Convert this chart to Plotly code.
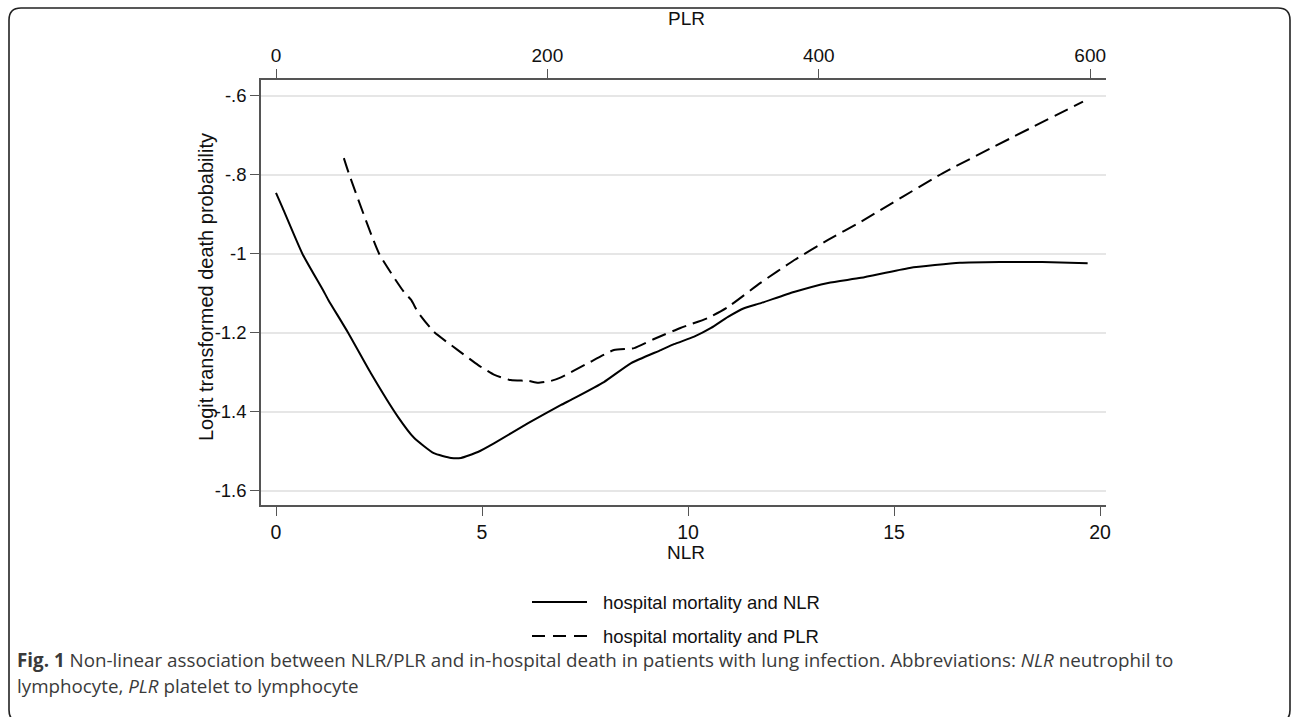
import plotly.graph_objects as go

# ---------------- data ----------------
nlr_x = [0, 0.16, 0.64, 1.14, 1.27, 1.75, 2.3, 2.96, 3.35, 3.83, 4.25, 4.49, 4.9, 5.29,
         6.12, 6.92, 7.16, 7.96, 8.62, 9.34, 9.66, 10.15, 10.56, 10.97, 11.36, 11.77,
         12.57, 13.4, 14.2, 15.38, 16.6, 17.57, 18.6, 19.7]
nlr_y = [-0.846, -0.884, -1.0, -1.092, -1.117, -1.2, -1.302, -1.413, -1.466, -1.505, -1.517,
         -1.517, -1.502, -1.48, -1.429, -1.383, -1.37, -1.325, -1.277, -1.244, -1.229,
         -1.21, -1.188, -1.16, -1.138, -1.125, -1.097, -1.074, -1.061, -1.036, -1.023,
         -1.021, -1.021, -1.024]

plr_x = [50, 54, 76, 94.3, 99.6, 104.6, 116.4, 134, 149, 161, 173, 186, 193, 202.6, 210,
         230, 249, 264, 278.6, 298, 318, 333, 357, 382, 406.8, 431, 491.5, 594.7]
plr_y = [-0.758, -0.8, -1.0, -1.097, -1.117, -1.148, -1.198, -1.244, -1.282, -1.307, -1.32,
         -1.322, -1.327, -1.322, -1.313, -1.277, -1.244, -1.239, -1.216, -1.188, -1.163,
         -1.135, -1.074, -1.016, -0.965, -0.919, -0.796, -0.615]

nlr_ticks = [0, 5, 10, 15, 20]
plr_ticks = [0, 200, 400, 600]
y_ticks = [-0.6, -0.8, -1.0, -1.2, -1.4, -1.6]
y_ticktext = ["-.6", "-.8", "-1", "-1.2", "-1.4", "-1.6"]

series_names = ["hospital mortality and NLR", "hospital mortality and PLR"]
x_title_bottom = "NLR"
x_title_top = "PLR"
y_title = "Logit transformed death probability"
caption_line1 = ("<b>Fig. 1</b> Non-linear association between NLR/PLR and in-hospital death in "
                 "patients with lung infection. Abbreviations: <i>NLR</i> neutrophil to")
caption_line2 = "lymphocyte, <i>PLR</i> platelet to lymphocyte"

# ---------------- layout geometry ----------------
W, H = 1293, 717
PL, PR, PT, PB = 261, 1106, 80, 505   # plot area in pixels


def fx(px):
    return (px - PL) / (PR - PL)


def fy(py):
    return (PB - py) / (PB - PT)


AX = "#555555"
FONT = "Arial, Liberation Sans, sans-serif"
CAPFONT = "Open Sans, sans-serif"

fig = go.Figure()
fig.add_trace(go.Scatter(x=nlr_x, y=nlr_y, mode="lines", name=series_names[0],
                         line=dict(color="black", width=2, shape="spline", smoothing=0.5),
                         xaxis="x", yaxis="y", showlegend=False))
fig.add_trace(go.Scatter(x=plr_x, y=plr_y, mode="lines", name=series_names[1],
                         line=dict(color="black", width=2, dash="15px,7px",
                                   shape="spline", smoothing=0.5),
                         xaxis="x2", yaxis="y", showlegend=False))

common_axis = dict(showline=True, linecolor=AX, linewidth=1.5, ticks="outside",
                   ticklen=9, tickwidth=1.2, tickcolor=AX, showgrid=False, zeroline=False)

fig.update_layout(
    width=W, height=H, autosize=False,
    margin=dict(l=PL, r=W - PR, t=PT, b=H - PB, pad=0),
    paper_bgcolor="white", plot_bgcolor="white",
    font=dict(family=FONT, color="#111111"),
    xaxis=dict(range=[(PL - 276) / 41.2, (PR - 276) / 41.2], tickvals=nlr_ticks,
               tickfont=dict(size=19.5, family=FONT, color="#111"), **common_axis),
    xaxis2=dict(range=[(PL - 276) / 1.357, (PR - 276) / 1.357], tickvals=plr_ticks,
                overlaying="x", side="top", anchor="y",
                tickfont=dict(size=19, family=FONT, color="#111"), **common_axis),
    yaxis=dict(range=[-0.6 - (PB - 95.7) / 395, -0.6 + (95.7 - PT) / 395],
               tickvals=y_ticks, ticktext=y_ticktext,
               showline=True, linecolor=AX, linewidth=1.5, ticks="outside", ticklen=9,
               tickwidth=1.2, tickcolor=AX, zeroline=False,
               showgrid=True, gridcolor="#e6e6e6", gridwidth=1.5,
               tickfont=dict(size=18.5, family=FONT, color="#111")),
    showlegend=False,
)

annots = [
    dict(text=x_title_bottom, x=fx(686), y=fy(552), font=dict(size=19, family=FONT, color="#111")),
    dict(text=x_title_top, x=fx(686), y=fy(19), font=dict(size=19, family=FONT, color="#111")),
    dict(text=y_title, x=fx(206), y=fy(287), textangle=-90,
         font=dict(size=20, family=FONT, color="#111")),
    dict(text=series_names[0], x=fx(601), y=fy(602), xanchor="left",
         font=dict(size=18.5, family=FONT, color="#111")),
    dict(text=series_names[1], x=fx(601), y=fy(636), xanchor="left",
         font=dict(size=18.5, family=FONT, color="#111")),
    dict(text=caption_line1, x=fx(15), y=fy(660), xanchor="left",
         font=dict(size=18.8, family=CAPFONT, color="#3a3a3a")),
    dict(text=caption_line2, x=fx(15), y=fy(686), xanchor="left",
         font=dict(size=18.8, family=CAPFONT, color="#3a3a3a")),
]
for a in annots:
    a.setdefault("xanchor", "center")
    fig.add_annotation(xref="paper", yref="paper", yanchor="middle", showarrow=False, **a)

# legend samples
fig.add_shape(type="line", xref="paper", yref="paper", x0=fx(532), x1=fx(587),
              y0=fy(602), y1=fy(602), line=dict(color="black", width=2))
fig.add_shape(type="line", xref="paper", yref="paper", x0=fx(532), x1=fx(587),
              y0=fy(636), y1=fy(636), line=dict(color="black", width=2, dash="13px,8px"))

# rounded outer border
x0, x1, y0, y1, r = 9, 1290, 8, 722, 12
path = (f"M {fx(x0 + r)},{fy(y0)} L {fx(x1 - r)},{fy(y0)} "
        f"Q {fx(x1)},{fy(y0)} {fx(x1)},{fy(y0 + r)} "
        f"L {fx(x1)},{fy(y1 - r)} Q {fx(x1)},{fy(y1)} {fx(x1 - r)},{fy(y1)} "
        f"L {fx(x0 + r)},{fy(y1)} Q {fx(x0)},{fy(y1)} {fx(x0)},{fy(y1 - r)} "
        f"L {fx(x0)},{fy(y0 + r)} Q {fx(x0)},{fy(y0)} {fx(x0 + r)},{fy(y0)} Z")
fig.add_shape(type="path", xref="paper", yref="paper", path=path,
              line=dict(color="#222", width=1.6), layer="above")

fig.write_html("out.html", config={"displayModeBar": False},
               post_script="document.body.style.margin='0';document.body.style.overflow='hidden';")
